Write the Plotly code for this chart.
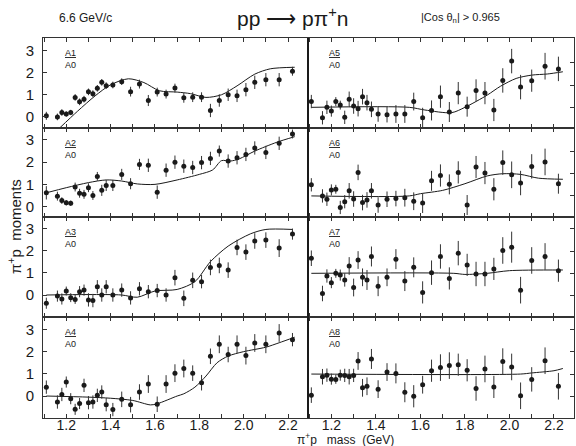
import plotly.graph_objects as go

W, H = 576, 446

# ---------------- data ----------------
mass = [1.11, 1.16, 1.18, 1.20, 1.22, 1.24, 1.26, 1.28, 1.30, 1.32, 1.34, 1.36, 1.38,
        1.41, 1.45, 1.49, 1.53, 1.57, 1.61, 1.65, 1.69, 1.73, 1.77, 1.81, 1.85, 1.89,
        1.93, 1.97, 2.01, 2.05, 2.10, 2.16, 2.22]

a1 = [0.05, 0.0, 0.2, 0.13, 0.2, 0.88, 0.68, 0.8, 1.13, 1.05, 1.29, 1.56, 1.41, 1.44, 1.59,
      1.14, 1.48, 0.74, 1.12, 1.03, 1.3, 0.86, 0.89, 0.89, 0.29, 0.74, 1.0, 0.95, 1.23,
      1.56, 1.68, 1.68, 2.06]
a1_err = [0.18, 0.15, 0.15, 0.12, 0.12, 0.15, 0.15, 0.15, 0.15, 0.15, 0.15, 0.15, 0.15, 0.15,
          0.15, 0.22, 0.2, 0.25, 0.2, 0.2, 0.2, 0.22, 0.22, 0.22, 0.3, 0.28, 0.28, 0.28, 0.3,
          0.3, 0.3, 0.3, 0.2]

a2 = [0.62, 0.47, 0.27, 0.17, 0.15, 0.88, 0.6, 0.55, 0.85, 0.5, 1.36, 0.73, 0.95, 0.95, 1.45,
      1.03, 1.9, 1.86, 0.65, 1.64, 2.0, 1.82, 1.76, 1.98, 2.17, 2.5, 2.05, 2.2, 2.35, 2.64,
      2.44, 2.85, 3.27]
a2_err = [0.3, 0.2, 0.15, 0.12, 0.12, 0.2, 0.2, 0.2, 0.2, 0.2, 0.2, 0.25, 0.25, 0.25, 0.25,
          0.25, 0.25, 0.3, 0.3, 0.3, 0.3, 0.3, 0.3, 0.3, 0.3, 0.25, 0.3, 0.3, 0.3, 0.3, 0.3,
          0.3, 0.2]

a3 = [-0.37, -0.05, -0.18, 0.18, -0.12, -0.2, 0.15, 0.22, -0.22, -0.25, 0.37, 0.0, 0.37, 0.0,
      0.22, -0.13, 0.28, 0.15, 0.2, 0.0, 0.78, -0.15, 0.66, 0.6, 1.24, 1.33, 1.12, 2.14, 1.93,
      2.43, 2.47, 2.11, 2.74]
a3_err = [0.25, 0.25, 0.25, 0.2, 0.2, 0.2, 0.25, 0.25, 0.3, 0.3, 0.3, 0.3, 0.3, 0.3, 0.3,
          0.3, 0.3, 0.3, 0.3, 0.3, 0.35, 0.35, 0.35, 0.3, 0.35, 0.35, 0.35, 0.35, 0.35, 0.35,
          0.35, 0.4, 0.25]

a4 = [0.4, -0.27, 0.07, 0.63, -0.12, -0.6, -0.34, 0.48, -0.3, -0.27, 0.03, 0.18, -0.39, -0.61,
      -0.15, -0.39, 0.18, 0.54, -0.37, 0.54, 1.03, 1.24, 1.03, 0.6, 1.79, 2.33, 1.87, 2.33,
      1.82, 2.39, 2.33, 2.84, 2.54]
a4_err = [0.3, 0.3, 0.3, 0.25, 0.25, 0.25, 0.25, 0.3, 0.3, 0.3, 0.3, 0.3, 0.3, 0.3, 0.35,
          0.35, 0.35, 0.4, 0.35, 0.4, 0.4, 0.4, 0.35, 0.35, 0.35, 0.4, 0.35, 0.4, 0.4, 0.4,
          0.4, 0.4, 0.3]

a5 = [0.26, -0.47, 0.0, -0.17, 0.26, 0.1, -0.45, 0.36, 0.06, -0.06, 0.48, 0.21, -0.09, -0.3,
      -0.33, -0.3, -0.3, 0.26, -0.47, -0.14, 0.48, -0.21, 0.64, 0.03, 0.76, 0.64, -0.12, 1.21,
      2.08, 0.91, 1.2, 1.85, 1.73]
a5_err = [0.3, 0.3, 0.3, 0.25, 0.2, 0.2, 0.3, 0.35, 0.35, 0.35, 0.35, 0.35, 0.35, 0.35, 0.35,
          0.4, 0.4, 0.4, 0.45, 0.45, 0.5, 0.45, 0.5, 0.45, 0.5, 0.5, 0.5, 0.55, 0.55, 0.55,
          0.5, 0.6, 0.55]

a6 = [0.5, 0.0, -0.15, 0.27, 0.3, -0.52, -0.26, 0.23, -0.14, 1.06, -0.3, -0.18, 0.23, -0.41,
      -0.15, -0.12, -0.08, -0.24, -0.32, 0.68, 0.92, 0.52, 1.06, -0.41, 1.3, 1.03, 0.3, 1.5,
      0.95, 0.58, 1.33, 1.53, 0.55]
a6_err = [0.3, 0.3, 0.3, 0.25, 0.2, 0.3, 0.3, 0.35, 0.35, 0.35, 0.35, 0.35, 0.35, 0.35, 0.35,
          0.35, 0.4, 0.4, 0.45, 0.45, 0.5, 0.45, 0.5, 0.45, 0.5, 0.5, 0.5, 0.55, 0.6, 0.55,
          0.55, 0.6, 0.45]

a7 = [0.68, -0.91, -0.12, -0.42, 0.0, -0.08, -0.3, 0.33, -0.64, 0.6, -0.18, -0.3, 0.76, -0.58,
      -0.18, 0.64, -0.35, 0.27, -0.86, 0.03, 0.76, -0.23, 0.91, 0.38, -0.03, -0.03, 0.2, 1.03,
      1.18, -0.76, 0.58, 0.76, 0.12]
a7_err = [0.35, 0.35, 0.3, 0.25, 0.2, 0.25, 0.3, 0.4, 0.4, 0.4, 0.4, 0.45, 0.45, 0.45, 0.4,
          0.45, 0.45, 0.45, 0.5, 0.55, 0.55, 0.5, 0.55, 0.5, 0.55, 0.55, 0.5, 0.6, 0.7, 0.6,
          0.6, 0.6, 0.5]

a8 = [-0.95, -0.12, -0.05, -0.23, -0.24, -0.05, -0.06, -0.12, -0.06, 0.59, -0.62, -0.55, 0.68,
      -0.68, 0.09, 0.03, -0.82, -1.0, -0.48, 0.15, 0.29, 0.38, 0.42, 0.17, -0.65, 0.23, -0.58,
      0.56, 0.32, -0.98, -0.24, 0.6, -0.55]
a8_err = [0.35, 0.35, 0.3, 0.25, 0.2, 0.25, 0.3, 0.35, 0.3, 0.4, 0.4, 0.4, 0.45, 0.4, 0.4,
          0.45, 0.45, 0.5, 0.4, 0.5, 0.6, 0.6, 0.5, 0.5, 0.55, 0.6, 0.5, 0.6, 0.6, 0.6, 0.55,
          0.6, 0.6]

# fitted curves (knots)
c1_m = [1.17, 1.25, 1.33, 1.40, 1.48, 1.55, 1.62, 1.70, 1.76, 1.83, 1.90, 1.97, 2.05, 2.12, 2.23]
c1_v = [-0.5, 0.25, 0.95, 1.45, 1.72, 1.55, 1.18, 1.12, 1.05, 0.88, 1.0, 1.4, 1.93, 2.17, 2.24]
c2_m = [1.11, 1.20, 1.30, 1.38, 1.45, 1.52, 1.60, 1.70, 1.80, 1.86, 1.90, 1.94, 1.98, 2.05, 2.15, 2.23]
c2_v = [0.62, 0.85, 1.08, 1.2, 1.15, 1.02, 1.0, 1.2, 1.45, 1.65, 2.07, 2.05, 2.15, 2.5, 2.9, 3.15]
c3_m = [1.11, 1.30, 1.45, 1.52, 1.60, 1.70, 1.78, 1.85, 1.93, 2.03, 2.10, 2.22]
c3_v = [0.0, 0.02, 0.0, -0.1, 0.18, 0.25, 0.6, 1.5, 2.2, 2.75, 2.95, 2.95]
c4_m = [1.11, 1.30, 1.40, 1.50, 1.58, 1.61, 1.70, 1.73, 1.78, 1.83, 1.88, 1.93, 2.00, 2.10, 2.16, 2.23]
c4_v = [0.0, -0.05, -0.1, -0.2, -0.4, -0.35, 0.0, 0.1, 0.4, 0.9, 1.5, 1.8, 2.0, 2.2, 2.4, 2.65]
c5_m = [1.11, 1.55, 1.62, 1.74, 1.80, 1.90, 1.96, 2.03, 2.10, 2.17, 2.24]
c5_v = [0.0, 0.0, -0.12, -0.24, 0.0, 0.55, 0.95, 1.3, 1.45, 1.5, 1.6]
c6_m = [1.11, 1.55, 1.60, 1.70, 1.80, 1.90, 1.97, 2.05, 2.13, 2.24]
c6_v = [0.0, 0.0, 0.1, 0.25, 0.55, 0.9, 1.0, 0.97, 0.8, 0.75]
c7_m = [1.11, 1.75, 1.80, 1.90, 2.00, 2.24]
c7_v = [0.0, 0.0, -0.05, 0.0, 0.12, 0.15]
c8_m = [1.11, 2.05, 2.10, 2.20, 2.24]
c8_v = [0.0, 0.0, 0.05, 0.15, 0.25]

labels = ["A1", "A5", "A2", "A6", "A3", "A7", "A4", "A8"]

# ---------------- layout helpers ----------------
def px_x(p):
    return p / W

def px_y(p):
    return 1 - p / H

row_px = [(38, 128), (128, 217), (217, 317), (317, 418)]
col_px = [(43, 308), (308, 574)]
y_ranges = {
    (0, 0): [-0.5, 3.56], (0, 1): [-0.93, 3.12],
    (1, 0): [-0.47, 3.54], (1, 1): [-0.95, 3.06],
    (2, 0): [-0.99, 3.51], (2, 1): [-1.97, 2.54],
    (3, 0): [-0.99, 3.56], (3, 1): [-1.98, 2.57],
}
x_range = [1.095, 2.29]

panels = [
    (a1, a1_err, c1_m, c1_v), (a5, a5_err, c5_m, c5_v),
    (a2, a2_err, c2_m, c2_v), (a6, a6_err, c6_m, c6_v),
    (a3, a3_err, c3_m, c3_v), (a7, a7_err, c7_m, c7_v),
    (a4, a4_err, c4_m, c4_v), (a8, a8_err, c8_m, c8_v),
]

INK = "#1a1a1a"
FONT = "Liberation Sans"

fig = go.Figure()
layout = dict(
    width=W, height=H, margin=dict(l=0, r=0, t=0, b=0),
    paper_bgcolor="white", plot_bgcolor="white", showlegend=False,
    font=dict(family=FONT, color=INK, size=13),
)
annotations = []

for i, (vals, errs, cm, cv) in enumerate(panels):
    r, c = divmod(i, 2)
    k = i + 1
    xa = "x" if k == 1 else f"x{k}"
    ya = "y" if k == 1 else f"y{k}"
    fig.add_trace(go.Scatter(
        x=cm, y=cv, mode="lines", line=dict(color=INK, width=1, shape="spline", smoothing=0.8),
        xaxis=xa, yaxis=ya, hoverinfo="skip"))
    fig.add_trace(go.Scatter(
        x=mass, y=vals, mode="markers",
        marker=dict(color=INK, size=5),
        error_y=dict(type="data", array=errs, color="#333", thickness=1, width=0),
        xaxis=xa, yaxis=ya))
    x0, x1 = col_px[c]
    y0, y1 = row_px[r]
    bottom = (r == 3)
    layout["xaxis" if k == 1 else f"xaxis{k}"] = dict(
        domain=[px_x(x0), px_x(x1)], range=x_range, anchor=ya,
        showline=True, mirror="allticks", linecolor="#333", linewidth=1,
        ticks="inside", ticklen=4, tickcolor="#333",
        tickvals=[1.2, 1.4, 1.6, 1.8, 2.0, 2.2], tickformat=".1f",
        minor=dict(ticks="inside", ticklen=4, tickcolor="#333",
                   tickvals=[1.1, 1.3, 1.5, 1.7, 1.9, 2.1]),
        showticklabels=bottom, tickfont=dict(size=14, family=FONT, color=INK),
        ticklabelstandoff=-6,
        showgrid=False, zeroline=False, fixedrange=True,
    )
    layout["yaxis" if k == 1 else f"yaxis{k}"] = dict(
        domain=[px_y(y1), px_y(y0)], range=y_ranges[(r, c)], anchor=xa,
        showline=True, mirror=True, linecolor="#333", linewidth=1,
        ticks="inside", ticklen=4, tickcolor="#333",
        side="left" if c == 0 else "right",
        tickvals=[0, 1, 2, 3] if c == 0 else [-1, 0, 1, 2],
        showticklabels=(c == 0), tickfont=dict(size=15, family=FONT, color=INK),
        ticklabelstandoff=5,
        showgrid=False, zeroline=False, fixedrange=True,
    )
    lx = 70 if c == 0 else 334
    annotations.append(dict(
        x=px_x(lx), y=px_y(y0 + 21), xref="paper", yref="paper",
        text=f"<u>{labels[i]}</u><br>A0", showarrow=False,
        font=dict(size=9, family=FONT, color=INK), xanchor="center", yanchor="middle",
    ))

# divider between columns (thicker)
layout["shapes"] = [dict(type="line", xref="paper", yref="paper",
                         x0=px_x(308), x1=px_x(308), y0=px_y(418), y1=px_y(38),
                         line=dict(color=INK, width=2))]

annotations += [
    dict(x=px_x(85), y=px_y(18), xref="paper", yref="paper", text="6.6 GeV/c",
         showarrow=False, xanchor="center", yanchor="middle",
         font=dict(size=12, family=FONT, color=INK)),
    dict(x=px_x(292), y=px_y(17), xref="paper", yref="paper",
         text="pp ⟶ pπ<sup>+</sup>n", showarrow=False, xanchor="center", yanchor="middle",
         font=dict(size=21, family=FONT, color=INK)),
    dict(x=px_x(460), y=px_y(18), xref="paper", yref="paper",
         text="|Cos θ<sub>n</sub>| > 0.965", showarrow=False, xanchor="center", yanchor="middle",
         font=dict(size=11, family=FONT, color=INK)),
    dict(x=px_x(14), y=px_y(227), xref="paper", yref="paper",
         text="π<sup>+</sup>p  moments", showarrow=False, textangle=-90,
         xanchor="center", yanchor="middle",
         font=dict(size=15, family=FONT, color=INK)),
    dict(x=px_x(345), y=px_y(439), xref="paper", yref="paper",
         text="π<sup>+</sup>p   mass  (GeV)", showarrow=False,
         xanchor="center", yanchor="middle",
         font=dict(size=12, family=FONT, color=INK)),
]
layout["annotations"] = annotations
fig.update_layout(**layout)
fig.write_html(
    "out.html",
    config={"displayModeBar": False},
    post_script="document.body.style.margin='0';document.body.style.overflow='hidden';",
)
